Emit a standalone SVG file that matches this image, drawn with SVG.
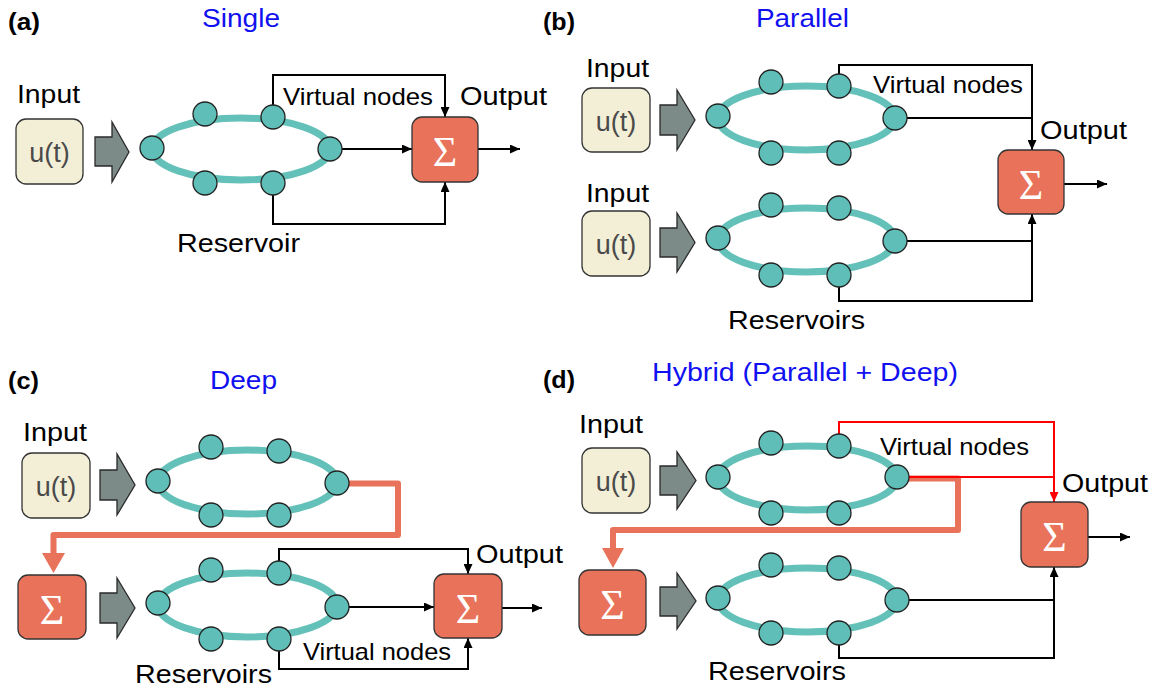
<svg xmlns="http://www.w3.org/2000/svg" width="1156" height="692" viewBox="0 0 1156 692">
<style>
text{font-family:"Liberation Sans",Arial,sans-serif;fill:#000}
.pl{font-size:24px;font-weight:bold}
.ti{font-size:26px;fill:#1010f0}
.lb{font-size:26px}
.vn{font-size:24px}
.ut{font-size:27px;fill:#4a4a4a;text-anchor:middle}
.sg{font-family:"Liberation Serif","Times New Roman",serif;font-size:42px;fill:#fff;text-anchor:middle}
.ubox{fill:#f3efd6;stroke:#333;stroke-width:1.3}
.sbox{fill:#e8735a;stroke:#333;stroke-width:1.3}
.garr{fill:#7d8b88;stroke:#2a2a2a;stroke-width:1.3;stroke-linejoin:miter}
.ring{fill:none;stroke:#64c1b9;stroke-width:7}
.dot{fill:#5fbfb8;stroke:#222;stroke-width:1.3}
.ln{fill:none;stroke:#000;stroke-width:2}
.red{fill:none;stroke:#ff0000;stroke-width:2}
.org{fill:none;stroke:#e8735a;stroke-width:6;stroke-linejoin:round}
.orgh{fill:#e8735a}
</style>
<defs>
<marker id="ah" markerUnits="userSpaceOnUse" markerWidth="11" markerHeight="9" refX="10" refY="4.5" orient="auto"><path d="M0,0 L10,4.5 L0,9 z" fill="#000"/></marker>
<marker id="ahr" markerUnits="userSpaceOnUse" markerWidth="11" markerHeight="9" refX="10" refY="4.5" orient="auto"><path d="M0,0 L10,4.5 L0,9 z" fill="#ff0000"/></marker>
</defs>

<!-- panel titles -->
<g id="titles">
<text class="pl" x="8" y="30" textLength="32" lengthAdjust="spacingAndGlyphs">(a)</text>
<text class="ti" x="202" y="27" textLength="78" lengthAdjust="spacingAndGlyphs">Single</text>
<text class="pl" x="543" y="30" textLength="32" lengthAdjust="spacingAndGlyphs">(b)</text>
<text class="ti" x="756" y="27" textLength="93" lengthAdjust="spacingAndGlyphs">Parallel</text>
<text class="pl" x="8" y="389" textLength="31" lengthAdjust="spacingAndGlyphs">(c)</text>
<text class="ti" x="210" y="389" textLength="67" lengthAdjust="spacingAndGlyphs">Deep</text>
<text class="pl" x="543" y="388" textLength="32" lengthAdjust="spacingAndGlyphs">(d)</text>
<text class="ti" x="652" y="381" textLength="306" lengthAdjust="spacingAndGlyphs">Hybrid (Parallel + Deep)</text>
</g>

<!-- connectors -->
<g id="connectors">
<path class="ln" d="M273,105 V75 H445 V117" marker-end="url(#ah)"/>
<path class="ln" d="M342,149 H412" marker-end="url(#ah)"/>
<path class="ln" d="M273,195 V224 H445 V182" marker-end="url(#ah)"/>
<path class="ln" d="M478,149 H520" marker-end="url(#ah)"/>

<path class="ln" d="M839,74 V65 H1032 V150" marker-end="url(#ah)"/>
<path class="ln" d="M907,118 H1032"/>
<path class="ln" d="M907,241 H1032"/>
<path class="ln" d="M839,287 V301 H1032 V214" marker-end="url(#ah)"/>
<path class="ln" d="M1064,184 H1107" marker-end="url(#ah)"/>

<path class="org" d="M349,483.5 H398 V535 H53.5 V553"/>
<polygon class="orgh" points="42,553 65,553 53.5,573"/>
<path class="ln" d="M279,561 V549 H468 V574" marker-end="url(#ah)"/>
<path class="ln" d="M349,607 H434" marker-end="url(#ah)"/>
<path class="ln" d="M279,651 V669 H468 V638" marker-end="url(#ah)"/>
<path class="ln" d="M502,608 H542" marker-end="url(#ah)"/>

<path class="org" d="M909,478.5 H958 V530 H613 V548"/>
<polygon class="orgh" points="602,548 624,548 613,568"/>
<path class="red" d="M839,434 V422 H1054 V502" marker-end="url(#ahr)"/>
<path class="red" d="M909,477 H1054"/>
<path class="ln" d="M909,600 H1054"/>
<path class="ln" d="M839,645 V658 H1054 V567" marker-end="url(#ah)"/>
<path class="ln" d="M1088,537 H1130" marker-end="url(#ah)"/>
</g>

<!-- panel a -->
<g id="a-input"><text class="lb" x="17" y="103" textLength="63" lengthAdjust="spacingAndGlyphs">Input</text>
<rect class="ubox" x="16" y="119" width="67" height="65" rx="10"/><text class="ut" x="49.5" y="162">u(t)</text></g>
<g id="a-arrow"><polygon class="garr" points="95,137 112,137 112,122 129,152 112,182 112,166 95,166"/></g>
<g id="a-reservoir">
<ellipse class="ring" cx="241" cy="149" rx="89" ry="31"/>
<circle class="dot" cx="152" cy="148" r="12"/><circle class="dot" cx="205" cy="114" r="12"/><circle class="dot" cx="273" cy="117" r="12"/>
<circle class="dot" cx="205" cy="183" r="12"/><circle class="dot" cx="273" cy="183" r="12"/><circle class="dot" cx="330" cy="149" r="12"/>
<text class="lb" x="177" y="252" textLength="123" lengthAdjust="spacingAndGlyphs">Reservoir</text></g>
<g id="a-sum"><rect class="sbox" x="412" y="117" width="66" height="65" rx="10"/><text class="sg" x="445" y="166">Σ</text>
<text class="lb" x="460" y="105" textLength="87" lengthAdjust="spacingAndGlyphs">Output</text></g>
<text class="vn" x="283" y="105" textLength="150" lengthAdjust="spacingAndGlyphs">Virtual nodes</text>

<!-- panel b -->
<g id="b-input1"><text class="lb" x="586" y="77" textLength="63" lengthAdjust="spacingAndGlyphs">Input</text>
<rect class="ubox" x="582" y="88" width="68" height="64" rx="10"/><text class="ut" x="616" y="131">u(t)</text></g>
<g id="b-arrow1"><polygon class="garr" points="660,105 677,105 677,90 695,120 677,150 677,135 660,135"/></g>
<g id="b-reservoir1">
<ellipse class="ring" cx="806.5" cy="118" rx="88.5" ry="32"/>
<circle class="dot" cx="718" cy="116" r="12"/><circle class="dot" cx="771" cy="82" r="12"/><circle class="dot" cx="839" cy="86" r="12"/>
<circle class="dot" cx="771" cy="153" r="12"/><circle class="dot" cx="839" cy="153" r="12"/><circle class="dot" cx="895" cy="118" r="12"/></g>
<g id="b-input2"><text class="lb" x="586" y="202" textLength="63" lengthAdjust="spacingAndGlyphs">Input</text>
<rect class="ubox" x="582" y="211" width="68" height="65" rx="10"/><text class="ut" x="616" y="254">u(t)</text></g>
<g id="b-arrow2"><polygon class="garr" points="660,228 677,228 677,213 695,242.5 677,272 677,257 660,257"/></g>
<g id="b-reservoir2">
<ellipse class="ring" cx="806.5" cy="240" rx="88.5" ry="32"/>
<circle class="dot" cx="718" cy="238" r="12"/><circle class="dot" cx="771" cy="205" r="12"/><circle class="dot" cx="839" cy="208" r="12"/>
<circle class="dot" cx="771" cy="275" r="12"/><circle class="dot" cx="839" cy="275" r="12"/><circle class="dot" cx="895" cy="241" r="12"/></g>
<text class="lb" x="728" y="329" textLength="137" lengthAdjust="spacingAndGlyphs">Reservoirs</text>
<g id="b-sum"><rect class="sbox" x="998" y="150" width="66" height="64" rx="10"/><text class="sg" x="1031" y="199">Σ</text>
<text class="lb" x="1040" y="139" textLength="87" lengthAdjust="spacingAndGlyphs">Output</text></g>
<text class="vn" x="873" y="93" textLength="150" lengthAdjust="spacingAndGlyphs">Virtual nodes</text>

<!-- panel c -->
<g id="c-input"><text class="lb" x="23" y="441" textLength="64" lengthAdjust="spacingAndGlyphs">Input</text>
<rect class="ubox" x="22" y="453" width="68" height="65" rx="10"/><text class="ut" x="56" y="496">u(t)</text></g>
<g id="c-arrow1"><polygon class="garr" points="100,470 117,470 117,454 135,485 117,515 117,500 100,500"/></g>
<g id="c-reservoir1">
<ellipse class="ring" cx="247.5" cy="482" rx="89.5" ry="32"/>
<circle class="dot" cx="158" cy="481" r="12"/><circle class="dot" cx="211" cy="447" r="12"/><circle class="dot" cx="279" cy="451" r="12"/>
<circle class="dot" cx="211" cy="515" r="12"/><circle class="dot" cx="279" cy="515" r="12"/><circle class="dot" cx="337" cy="483" r="12"/></g>
<g id="c-sum1"><rect class="sbox" x="18" y="575" width="68" height="64" rx="10"/><text class="sg" x="52" y="624">Σ</text></g>
<g id="c-arrow2"><polygon class="garr" points="100,593 117,593 117,578 135,608 117,638 117,623 100,623"/></g>
<g id="c-reservoir2">
<ellipse class="ring" cx="247.5" cy="605" rx="89.5" ry="32"/>
<circle class="dot" cx="158" cy="603" r="12"/><circle class="dot" cx="211" cy="570" r="12"/><circle class="dot" cx="279" cy="573" r="12"/>
<circle class="dot" cx="211" cy="639" r="12"/><circle class="dot" cx="279" cy="639" r="12"/><circle class="dot" cx="337" cy="607" r="12"/></g>
<text class="lb" x="135" y="683" textLength="137" lengthAdjust="spacingAndGlyphs">Reservoirs</text>
<g id="c-sum2"><rect class="sbox" x="434" y="574" width="68" height="64" rx="10"/><text class="sg" x="468" y="623">Σ</text>
<text class="lb" x="476" y="563" textLength="87" lengthAdjust="spacingAndGlyphs">Output</text></g>
<text class="vn" x="303" y="660" textLength="148" lengthAdjust="spacingAndGlyphs">Virtual nodes</text>

<!-- panel d -->
<g id="d-input"><text class="lb" x="579" y="433" textLength="64" lengthAdjust="spacingAndGlyphs">Input</text>
<rect class="ubox" x="582" y="448" width="68" height="65" rx="10"/><text class="ut" x="616" y="491">u(t)</text></g>
<g id="d-arrow1"><polygon class="garr" points="660,466 677,466 677,452 696,480.5 677,509 677,495 660,495"/></g>
<g id="d-reservoir1">
<ellipse class="ring" cx="807.5" cy="478" rx="89.5" ry="32"/>
<circle class="dot" cx="718" cy="477" r="12"/><circle class="dot" cx="771" cy="443" r="12"/><circle class="dot" cx="839" cy="446" r="12"/>
<circle class="dot" cx="771" cy="513" r="12"/><circle class="dot" cx="839" cy="513" r="12"/><circle class="dot" cx="897" cy="477" r="12"/></g>
<g id="d-sum1"><rect class="sbox" x="579" y="570" width="67" height="65" rx="10"/><text class="sg" x="612.5" y="619">Σ</text></g>
<g id="d-arrow2"><polygon class="garr" points="660,587 677,587 677,573 696,601 677,629 677,616 660,616"/></g>
<g id="d-reservoir2">
<ellipse class="ring" cx="807.5" cy="600" rx="89.5" ry="32"/>
<circle class="dot" cx="718" cy="598" r="12"/><circle class="dot" cx="771" cy="565" r="12"/><circle class="dot" cx="839" cy="568" r="12"/>
<circle class="dot" cx="771" cy="633" r="12"/><circle class="dot" cx="839" cy="633" r="12"/><circle class="dot" cx="897" cy="600" r="12"/></g>
<text class="lb" x="708" y="680" textLength="138" lengthAdjust="spacingAndGlyphs">Reservoirs</text>
<g id="d-sum2"><rect class="sbox" x="1021" y="502" width="67" height="65" rx="10"/><text class="sg" x="1054.5" y="551">Σ</text>
<text class="lb" x="1062" y="492" textLength="86" lengthAdjust="spacingAndGlyphs">Output</text></g>
<text class="vn" x="880" y="455" textLength="149" lengthAdjust="spacingAndGlyphs">Virtual nodes</text>
</svg>
